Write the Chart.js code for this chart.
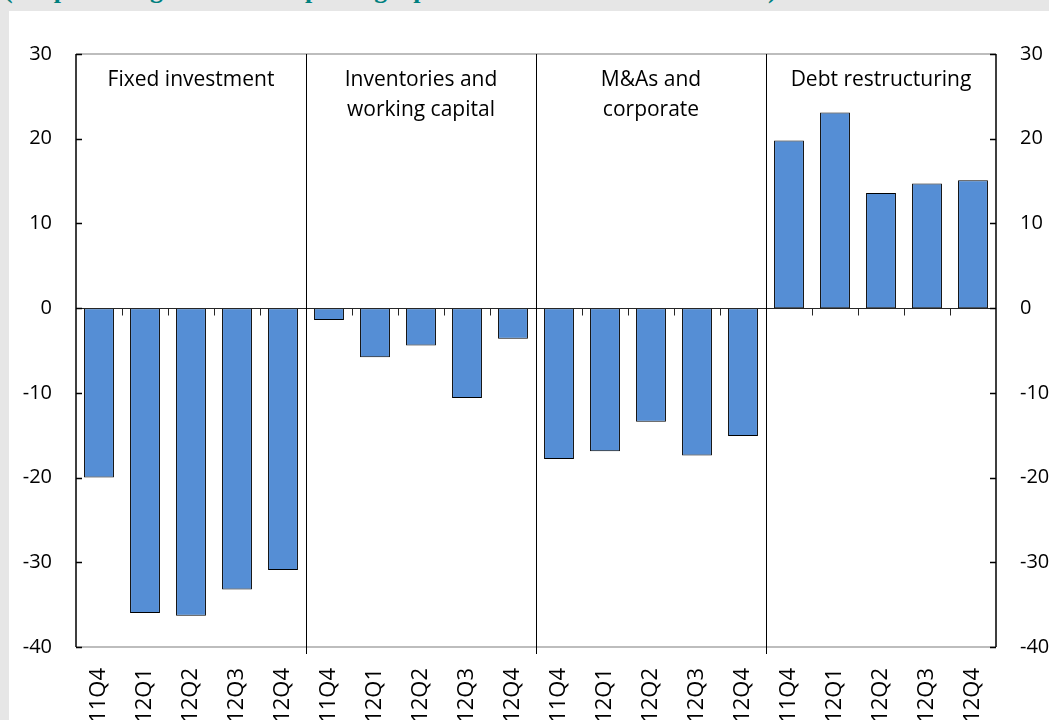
<!DOCTYPE html>
<html>
<head>
<meta charset="utf-8">
<script src="https://cdn.jsdelivr.net/npm/chart.js@4.4.1/dist/chart.umd.min.js"></script>
<style>
  html, body { margin: 0; padding: 0; }
  body { width: 1049px; height: 720px; background: #e6e6e6; position: relative; overflow: hidden; }
  #panel { position: absolute; left: 9px; top: 11px; right: 0; bottom: 0; background: #ffffff; }
  #title { position: absolute; left: 4px; top: -23px; font: bold 26px "Liberation Serif", serif; line-height: 26px; color: #00807f; white-space: nowrap; }
  #chart { position: absolute; left: 0; top: 0; }
</style>
</head>
<body>
<div id="panel"></div>
<div id="title">(net percentage of banks reporting a positive contribution to demand)</div>
<canvas id="chart" width="1049" height="720"></canvas>
<script>
const quarters = ['11Q4', '12Q1', '12Q2', '12Q3', '12Q4'];
const groupTitles = [
  ['Fixed investment'],
  ['Inventories and', 'working capital'],
  ['M&As and', 'corporate'],
  ['Debt restructuring'],
];
const fixedInvestment = [-20.0, -36.0, -36.3, -33.2, -30.9];
const inventories = [-1.4, -5.8, -4.4, -10.6, -3.6];
const mergers = [-17.8, -16.9, -13.4, -17.4, -15.1];
const debtRestructuring = [19.8, 23.1, 13.6, 14.7, 15.1];
const yMin = -40, yMax = 30, yStep = 10;

const labels = groupTitles.flatMap(() => quarters);
const values = [...fixedInvestment, ...inventories, ...mergers, ...debtRestructuring];

const FONT = '"Open Sans", Lato, sans-serif';

const panelPlugin = {
  id: 'panelDecor',
  afterDatasetsDraw(chart) {
    const { ctx, chartArea, scales } = chart;
    const x = scales.x, y = scales.y;
    const left = chartArea.left, right = chartArea.right, top = chartArea.top, bottom = chartArea.bottom;
    ctx.save();
    // top and bottom frame lines
    ctx.strokeStyle = '#bdbdbd';
    ctx.lineWidth = 2;
    ctx.beginPath();
    ctx.moveTo(left, top); ctx.lineTo(right, top);
    ctx.moveTo(left, bottom); ctx.lineTo(right, bottom);
    ctx.stroke();
    // zero line with small downward ticks between categories
    const y0 = Math.round(y.getPixelForValue(0)) + 0.5;
    ctx.strokeStyle = '#262626';
    ctx.lineWidth = 1;
    ctx.beginPath();
    ctx.moveTo(left, y0); ctx.lineTo(right, y0);
    for (let i = 1; i < labels.length; i++) {
      const bx = Math.round(x.getPixelForValue(i - 0.5)) + 0.5;
      ctx.moveTo(bx, y0); ctx.lineTo(bx, y0 + 7);
    }
    ctx.stroke();
    // group dividers
    ctx.strokeStyle = '#000000';
    ctx.beginPath();
    for (let g = 1; g < groupTitles.length; g++) {
      const bx = Math.round(x.getPixelForValue(g * quarters.length - 0.5)) + 0.5;
      ctx.moveTo(bx, top); ctx.lineTo(bx, bottom + 7);
    }
    ctx.stroke();
    // y axes with inward ticks
    ctx.lineWidth = 1.5;
    ctx.beginPath();
    ctx.moveTo(left, top); ctx.lineTo(left, bottom);
    ctx.moveTo(right, top); ctx.lineTo(right, bottom);
    for (let v = yMin; v <= yMax; v += yStep) {
      const ty = Math.round(y.getPixelForValue(v)) + 0.5;
      ctx.moveTo(left, ty); ctx.lineTo(left + 6, ty);
      ctx.moveTo(right, ty); ctx.lineTo(right - 6, ty);
    }
    ctx.stroke();
    // group titles
    ctx.fillStyle = '#000000';
    ctx.font = '21px ' + FONT;
    ctx.textAlign = 'center';
    ctx.textBaseline = 'middle';
    groupTitles.forEach((lines, g) => {
      const x1 = x.getPixelForValue(g * quarters.length - 0.5);
      const x2 = x.getPixelForValue((g + 1) * quarters.length - 0.5);
      lines.forEach((line, k) => {
        ctx.fillText(line, (x1 + x2) / 2, top + 26 + k * 30);
      });
    });
    ctx.restore();
  },
};

new Chart(document.getElementById('chart'), {
  type: 'bar',
  data: {
    labels,
    datasets: [{
      data: values,
      backgroundColor: '#558ed5',
      borderColor: '#000000',
      borderWidth: 1,
      borderSkipped: false,
      barPercentage: 0.65,
      categoryPercentage: 1.0,
    }],
  },
  options: {
    responsive: false,
    animation: false,
    events: [],
    layout: { padding: { top: 54, left: 0, right: 0, bottom: 0 } },
    plugins: { legend: { display: false }, tooltip: { enabled: false } },
    scales: {
      x: {
        grid: { display: false, drawTicks: false },
        border: { display: false },
        ticks: { color: '#000', font: { family: FONT, size: 22 }, minRotation: 90, maxRotation: 90, padding: 21, autoSkip: false },
        afterFit(scale) { scale.height = 73; },
      },
      y: {
        position: 'left',
        min: yMin, max: yMax,
        grid: { display: false, drawTicks: false },
        border: { display: false },
        ticks: { stepSize: yStep, color: '#000', font: { family: FONT, size: 20 }, padding: 24 },
        afterFit(scale) { scale.width = 76; },
      },
      y2: {
        position: 'right',
        min: yMin, max: yMax,
        grid: { display: false, drawTicks: false },
        border: { display: false },
        ticks: { stepSize: yStep, color: '#000', font: { family: FONT, size: 20 }, padding: 24 },
        afterFit(scale) { scale.width = 53; },
      },
    },
  },
  plugins: [panelPlugin],
});
</script>
</body>
</html>
